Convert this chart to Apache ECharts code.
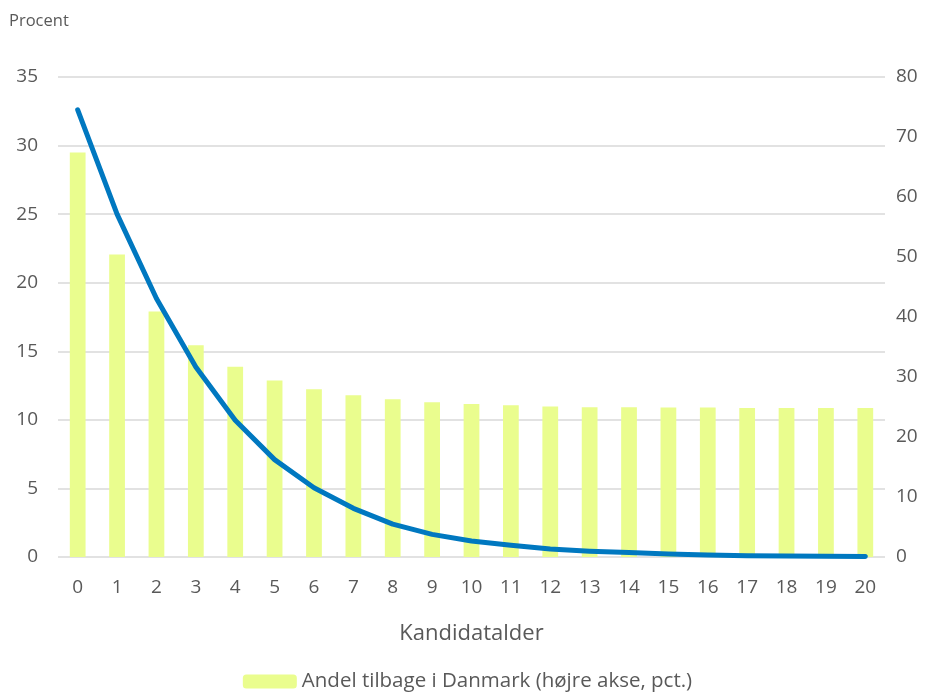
<!DOCTYPE html>
<html><head><meta charset="utf-8">
<script src="https://cdn.jsdelivr.net/npm/echarts@6/dist/echarts.min.js"></script>
<style>html,body{margin:0;padding:0;background:#fff}#c{width:935px;height:697px}</style>
</head><body><div id="c"></div>
<script>
const categories = ['0','1','2','3','4','5','6','7','8','9','10','11','12','13','14','15','16','17','18','19','20'];
const andelTilbage = [67.4, 50.4, 40.9, 35.3, 31.7, 29.4, 27.95, 26.95, 26.3, 25.8, 25.5, 25.3, 25.1, 24.95, 24.95, 24.9, 24.9, 24.85, 24.85, 24.85, 24.85];
const procentLinje = [32.6, 25.0, 18.85, 13.86, 9.97, 7.1, 5.05, 3.55, 2.4, 1.65, 1.17, 0.85, 0.58, 0.42, 0.32, 0.22, 0.15, 0.1, 0.08, 0.05, 0.03];
const leftTicks = {min: 0, max: 35, interval: 5};
const rightTicks = {min: 0, max: 80, interval: 10};
const barName = 'Andel tilbage i Danmark (højre akse, pct.)';
const lineName = 'Procent';

const font = 'Open Sans';
const chart = echarts.init(document.getElementById('c'));
chart.setOption({
  animation: false,
  textStyle: {fontFamily: font},
  grid: {left: 58, right: 50, top: 77, bottom: 140, containLabel: false},
  graphic: [{type: 'text', left: 9, top: 13, style: {text: 'Procent', fill: '#595959', font: '16.5px "Open Sans"'}}],
  legend: {data: [barName], bottom: 0, left: 'center', itemWidth: 54, itemHeight: 14, itemGap: 4,
    textStyle: {fontSize: 20.5, color: '#595959', fontFamily: font}},
  xAxis: {type: 'category', data: categories, boundaryGap: true,
    name: 'Kandidatalder', nameLocation: 'middle', nameGap: 66,
    nameTextStyle: {fontSize: 22, color: '#595959', fontFamily: font},
    axisLine: {show: false}, axisTick: {show: false},
    axisLabel: {fontSize: 19, color: '#595959', margin: 21, interval: 0, fontFamily: font}},
  yAxis: [
    {type: 'value', min: leftTicks.min, max: leftTicks.max, interval: leftTicks.interval, position: 'left',
     axisLine: {show: false}, axisTick: {show: false},
     axisLabel: {fontSize: 19, color: '#595959', margin: 20, fontFamily: font},
     splitLine: {lineStyle: {color: '#D9D9D9', width: 1.5}}},
    {type: 'value', min: rightTicks.min, max: rightTicks.max, interval: rightTicks.interval, position: 'right',
     axisLine: {show: false}, axisTick: {show: false},
     axisLabel: {fontSize: 19, color: '#595959', margin: 11, fontFamily: font},
     splitLine: {show: false}}
  ],
  series: [
    {name: barName, type: 'bar', yAxisIndex: 1, data: andelTilbage, barWidth: '40%',
     itemStyle: {color: '#EAFD8E'}},
    {name: lineName, type: 'line', yAxisIndex: 0, data: procentLinje, symbol: 'none',
     lineStyle: {color: '#0078C0', width: 5, cap: 'round', join: 'round'}, itemStyle: {color: '#0078C0'}}
  ]
});
</script></body></html>
